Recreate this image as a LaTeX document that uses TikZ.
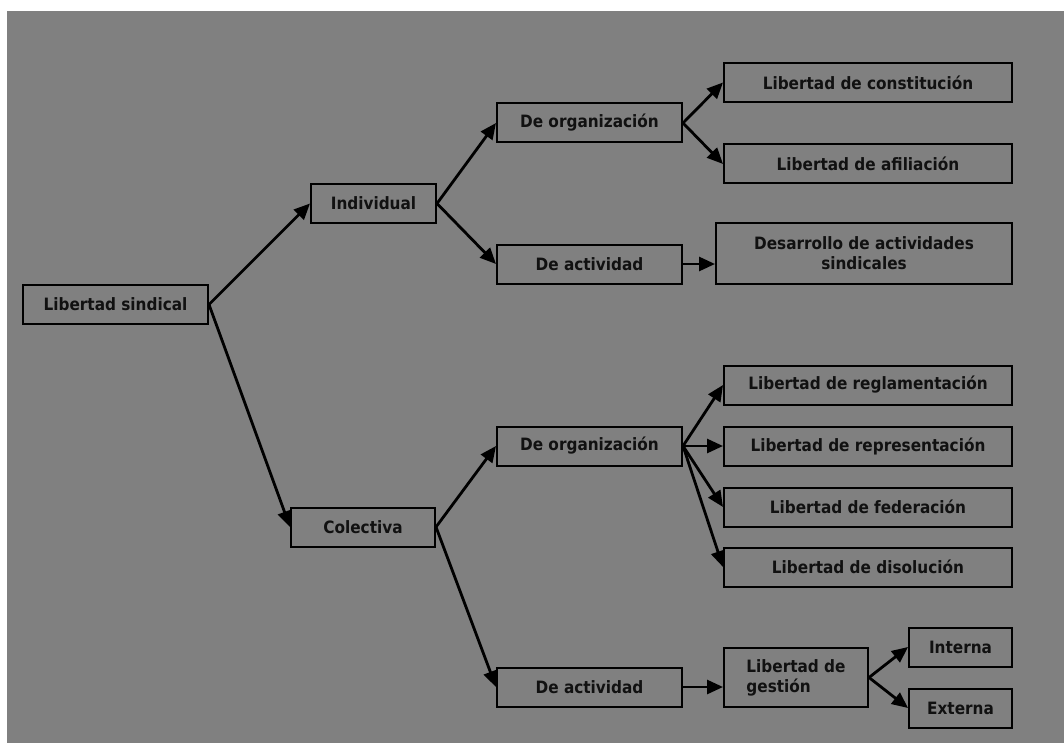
\documentclass[tikz,border=0pt]{standalone}
\usepackage{fontspec}
\setmainfont{DejaVu Sans Condensed}
\usepackage{tikz}
\usetikzlibrary{arrows.meta}
\definecolor{fondo}{HTML}{808080}
\definecolor{tinta}{HTML}{111111}
\tikzstyle{caja} = [draw=black, line width=2pt, rectangle, text=tinta,
    font=\bfseries\fontsize{17}{20}\selectfont, inner sep=2pt,
    minimum height=39pt, align=center]
\tikzstyle{flecha} = [line width=2.8pt, draw=black,
    -{Triangle[length=16pt,width=14pt]}, shorten <=-1pt]

\begin{document}
\begin{tikzpicture}[x=1pt, y=-1pt]
    \fill[white] (0,0) rectangle (1064,743);
    \fill[fondo] (7,11) rectangle (1064,743);
    \node [caja, minimum width=185pt] (sindical) at (115.5,304.5) {Libertad sindical};
    \node [caja, minimum width=125pt] (individual) at (373.5,203.5) {Individual};
    \node [caja, minimum width=144pt] (colectiva) at (363,527) {Colectiva};
    \node [caja, minimum width=185pt] (orgind) at (589.5,123) {De organización};
    \node [caja, minimum width=185pt] (actind) at (589.5,264) {De actividad};
    \node [caja, minimum width=288pt] (constitucion) at (868,82.5) {Libertad de constitución};
    \node [caja, minimum width=288pt] (afiliacion) at (868,164) {Libertad de afiliación};
    \node [caja, minimum width=296pt, minimum height=60pt] (desarrollo) at (864,253.5)
        {Desarrollo de actividades\\sindicales};
    \node [caja, minimum width=185pt] (orgcol) at (589.5,446) {De organización};
    \node [caja, minimum width=185pt] (actcol) at (589.5,687) {De actividad};
    \node [caja, minimum width=288pt] (reglamentacion) at (868,385) {Libertad de reglamentación};
    \node [caja, minimum width=288pt] (representacion) at (868,446) {Libertad de representación};
    \node [caja, minimum width=288pt] (federacion) at (868,507) {Libertad de federación};
    \node [caja, minimum width=288pt] (disolucion) at (868,567) {Libertad de disolución};
    \node [caja, minimum width=144pt, minimum height=59pt, align=left] (gestion) at (796,677.5)
        {Libertad de\\gestión};
    \node [caja, minimum width=103pt] (interna) at (960.5,647) {Interna};
    \node [caja, minimum width=103pt] (externa) at (960.5,708) {Externa};
    % primer nivel
    \draw [flecha] (sindical.east) -- (individual.west);
    \draw [flecha] (sindical.east) -- (colectiva.west);
    % individual
    \draw [flecha] (individual.east) -- (orgind.west);
    \draw [flecha] (individual.east) -- (actind.west);
    \draw [flecha] (orgind.east) -- (constitucion.west);
    \draw [flecha] (orgind.east) -- (afiliacion.west);
    \draw [flecha] (actind.east) -- (actind.east -| desarrollo.west);
    % colectiva
    \draw [flecha] (colectiva.east) -- (orgcol.west);
    \draw [flecha] (colectiva.east) -- (actcol.west);
    \foreach \destino in {reglamentacion, representacion, federacion, disolucion}
        \draw [flecha] (orgcol.east) -- (\destino.west);
    \draw [flecha] (actcol.east) -- (actcol.east -| gestion.west);
    \draw [flecha] (gestion.east) -- (interna.west);
    \draw [flecha] (gestion.east) -- (externa.west);
\end{tikzpicture}
\end{document}
